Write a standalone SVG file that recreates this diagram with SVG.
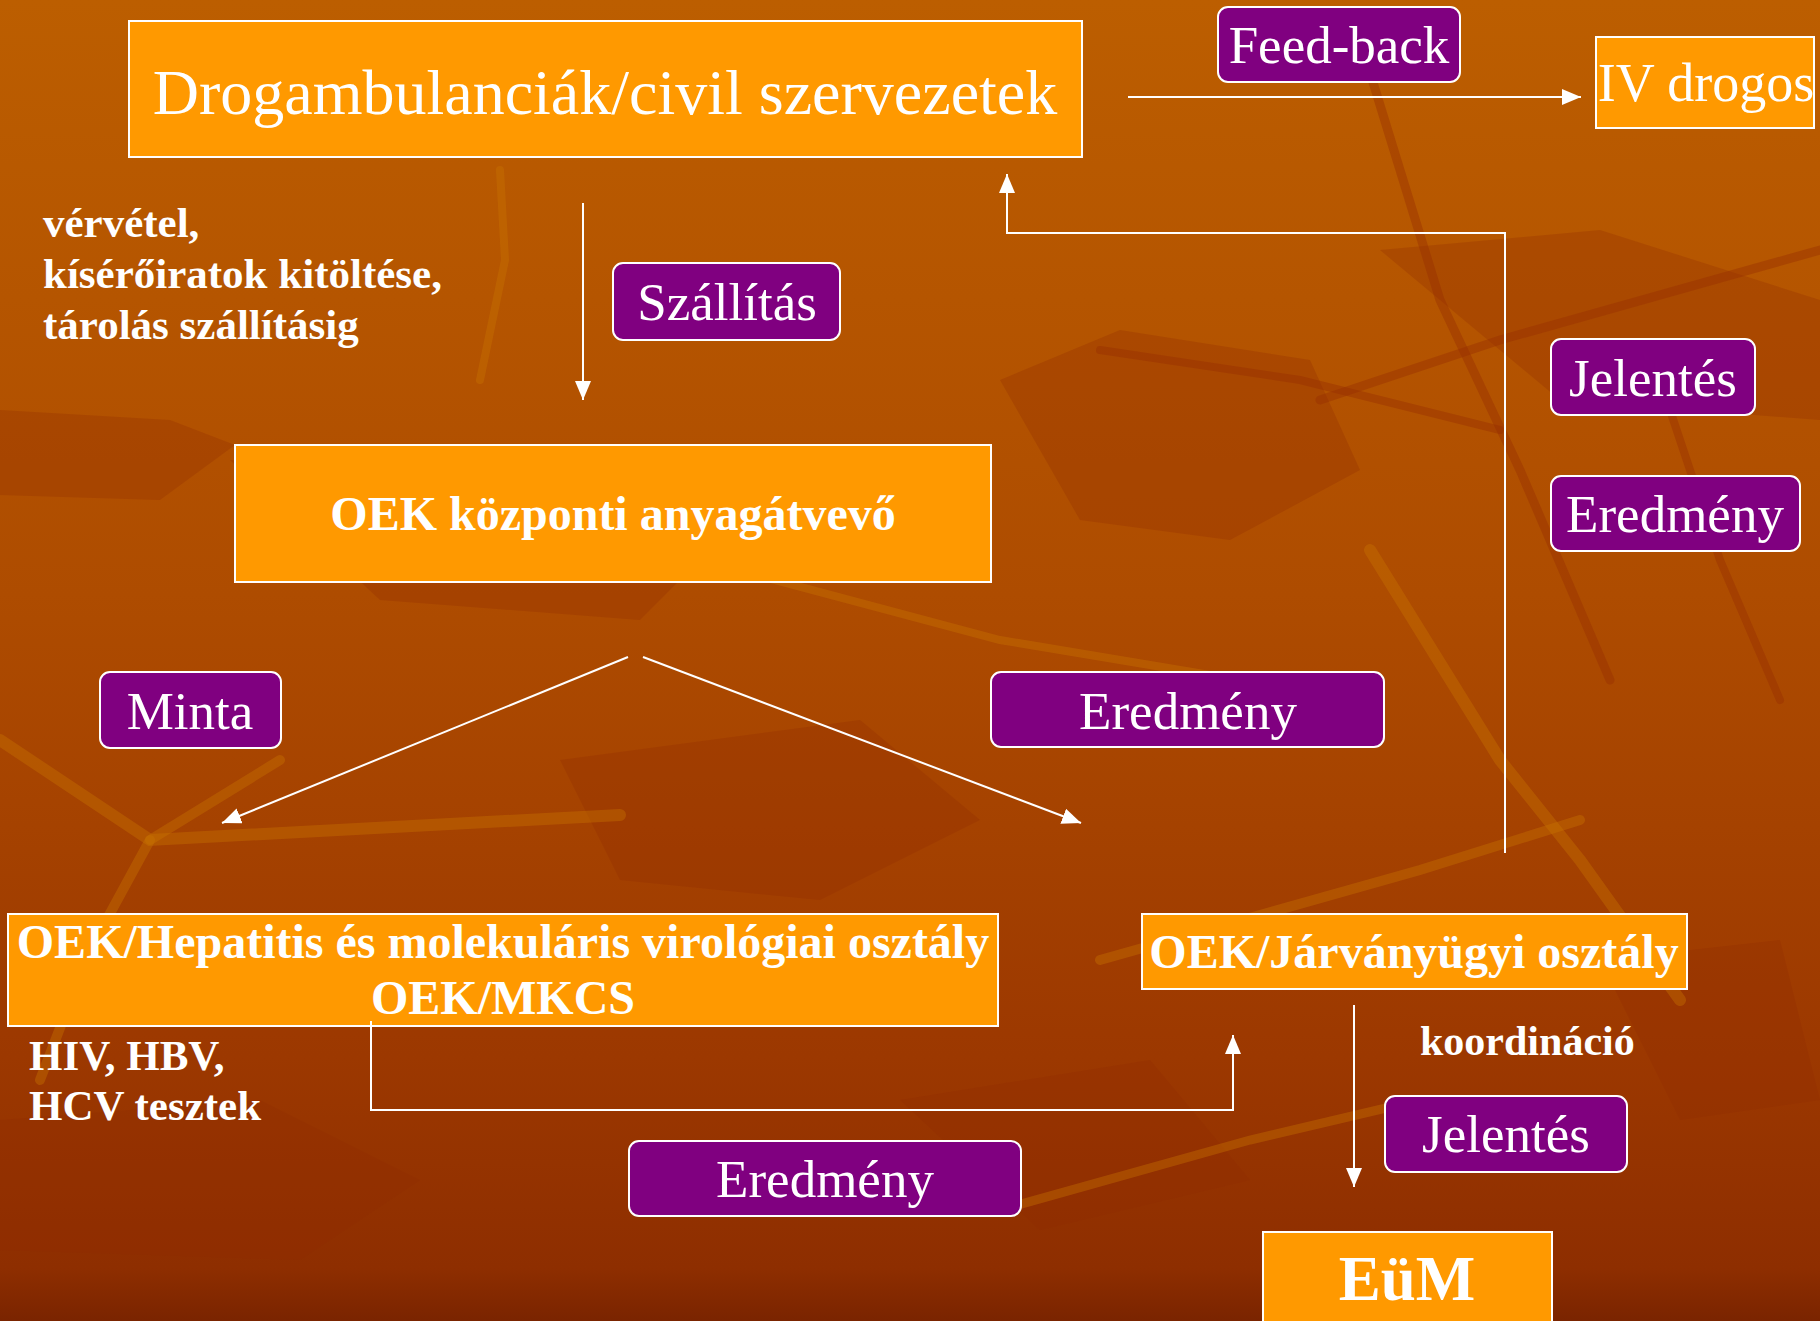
<svg xmlns="http://www.w3.org/2000/svg" width="1820" height="1321" viewBox="0 0 1820 1321">
  <defs>
    <linearGradient id="bg" x1="0" y1="0" x2="0" y2="1">
      <stop offset="0" stop-color="#BC5E00"/>
      <stop offset="0.45" stop-color="#AE4C00"/>
      <stop offset="0.8" stop-color="#9C3800"/>
      <stop offset="0.96" stop-color="#8E2E00"/>
      <stop offset="1" stop-color="#7A2400"/>
    </linearGradient>
    <marker id="arrow" markerUnits="userSpaceOnUse" markerWidth="20" markerHeight="18" refX="19" refY="8" orient="auto">
      <path d="M0,0 L19,8 L0,16 z" fill="#FFFFFF"/>
    </marker>
    <style>
      .box { fill: #FF9900; stroke: #FFFFFF; stroke-width: 2; }
      .tag { fill: #800080; stroke: #FFFFFF; stroke-width: 2; }
      .t { font-family: "Liberation Serif", "Times New Roman", serif; fill: #FFFFFF; }
      .tb { font-family: "Liberation Serif", "Times New Roman", serif; fill: #FFFFFF; font-weight: bold; }
      .conn { fill: none; stroke: #FFFFFF; stroke-width: 2; }
      .dk { fill: #8E2A00; opacity: 0.28; }
      .lt { fill: none; stroke: #C87400; stroke-linecap: round; opacity: 0.4; }
      .ds { fill: none; stroke: #962E00; stroke-linecap: round; opacity: 0.4; }
    </style>
  </defs>

  <g id="background">
    <rect x="0" y="0" width="1820" height="1321" fill="url(#bg)"/>
    <polygon class="dk" points="0,410 170,420 235,445 160,500 0,495"/>
    <polygon class="dk" points="230,460 560,470 700,560 640,620 380,600"/>
    <polygon class="dk" points="1000,380 1120,330 1310,360 1360,470 1230,540 1080,520"/>
    <polygon class="dk" points="1380,250 1600,230 1820,300 1820,420 1560,400"/>
    <polygon class="dk" points="560,760 860,720 980,820 820,900 620,880"/>
    <polygon class="dk" points="0,1120 260,1100 420,1180 300,1260 0,1250"/>
    <polygon class="dk" points="900,1100 1150,1060 1250,1180 1040,1230"/>
    <polygon class="dk" points="1600,960 1780,940 1820,1100 1680,1120"/>
    <polyline class="lt" stroke-width="12" points="0,740 150,840 620,815"/>
    <polyline class="lt" stroke-width="10" points="150,840 90,950 40,1080"/>
    <polyline class="lt" stroke-width="10" points="280,760 150,840"/>
    <polyline class="lt" stroke-width="12" points="1370,550 1500,760 1580,860 1680,1000"/>
    <polyline class="lt" stroke-width="10" points="1100,960 1420,870 1580,820"/>
    <polyline class="lt" stroke-width="8" points="500,170 505,260 480,380"/>
    <polyline class="lt" stroke-width="8" points="700,560 1000,640 1300,690"/>
    <polyline class="lt" stroke-width="9" points="1000,1210 1250,1140 1420,1100"/>
    <polyline class="ds" stroke-width="9" points="1320,400 1500,340 1820,250"/>
    <polyline class="ds" stroke-width="9" points="1360,40 1440,300 1520,470 1610,680"/>
    <polyline class="ds" stroke-width="8" points="1100,350 1300,380 1500,430"/>
    <polyline class="ds" stroke-width="8" points="1660,380 1720,560 1780,700"/>
  </g>

  <g id="node-drogambulanciak">
    <rect class="box" x="129" y="21" width="953" height="136"/>
    <text class="t" x="605" y="114" font-size="64" text-anchor="middle">Drogambulanciák/civil szervezetek</text>
  </g>

  <g id="label-feedback">
    <rect class="tag" x="1218" y="7" width="242" height="75" rx="10"/>
    <text class="t" x="1339" y="63" font-size="53" text-anchor="middle">Feed-back</text>
  </g>

  <g id="node-iv-drogos">
    <rect class="box" x="1596" y="37" width="218" height="91"/>
    <text class="t" x="1706" y="101" font-size="54" text-anchor="middle">IV drogos</text>
  </g>

  <g id="label-vervetel">
    <text class="tb" x="43" y="237" font-size="43">vérvétel,</text>
    <text class="tb" x="43" y="288" font-size="43">kísérőiratok kitöltése,</text>
    <text class="tb" x="43" y="339" font-size="43">tárolás szállításig</text>
  </g>

  <g id="label-szallitas">
    <rect class="tag" x="613" y="263" width="227" height="77" rx="10"/>
    <text class="t" x="727" y="320" font-size="53" text-anchor="middle">Szállítás</text>
  </g>

  <g id="label-jelentes-top">
    <rect class="tag" x="1551" y="339" width="204" height="76" rx="10"/>
    <text class="t" x="1653" y="396" font-size="53" text-anchor="middle">Jelentés</text>
  </g>

  <g id="label-eredmeny-right">
    <rect class="tag" x="1551" y="476" width="249" height="75" rx="10"/>
    <text class="t" x="1675" y="532" font-size="53" text-anchor="middle">Eredmény</text>
  </g>

  <g id="node-oek-kozponti">
    <rect class="box" x="235" y="445" width="756" height="137"/>
    <text class="tb" x="613" y="530" font-size="48" text-anchor="middle">OEK központi anyagátvevő</text>
  </g>

  <g id="label-minta">
    <rect class="tag" x="100" y="672" width="181" height="76" rx="10"/>
    <text class="t" x="190" y="729" font-size="53" text-anchor="middle">Minta</text>
  </g>

  <g id="label-eredmeny-mid">
    <rect class="tag" x="991" y="672" width="393" height="75" rx="10"/>
    <text class="t" x="1188" y="729" font-size="53" text-anchor="middle">Eredmény</text>
  </g>

  <g id="node-hepatitis">
    <rect class="box" x="8" y="914" width="990" height="112"/>
    <text class="tb" x="503" y="958" font-size="48" text-anchor="middle">OEK/Hepatitis és molekuláris virológiai osztály</text>
    <text class="tb" x="503" y="1014" font-size="48" text-anchor="middle">OEK/MKCS</text>
  </g>

  <g id="node-jarvanyugyi">
    <rect class="box" x="1142" y="914" width="545" height="75"/>
    <text class="tb" x="1414" y="968" font-size="48" text-anchor="middle">OEK/Járványügyi osztály</text>
  </g>

  <g id="label-tesztek">
    <text class="tb" x="29" y="1070" font-size="43">HIV, HBV,</text>
    <text class="tb" x="29" y="1120" font-size="43">HCV tesztek</text>
  </g>

  <g id="label-koordinacio">
    <text class="tb" x="1420" y="1055" font-size="42">koordináció</text>
  </g>

  <g id="label-jelentes-bottom">
    <rect class="tag" x="1385" y="1096" width="242" height="76" rx="10"/>
    <text class="t" x="1506" y="1152" font-size="53" text-anchor="middle">Jelentés</text>
  </g>

  <g id="label-eredmeny-bottom">
    <rect class="tag" x="629" y="1141" width="392" height="75" rx="10"/>
    <text class="t" x="825" y="1197" font-size="53" text-anchor="middle">Eredmény</text>
  </g>

  <g id="node-eum">
    <rect class="box" x="1263" y="1232" width="289" height="100"/>
    <text class="tb" x="1407" y="1300" font-size="63" text-anchor="middle">EüM</text>
  </g>

  <g id="connectors">
    <line class="conn" x1="583" y1="203" x2="583" y2="400" marker-end="url(#arrow)"/>
    <line class="conn" x1="1128" y1="97" x2="1581" y2="97" marker-end="url(#arrow)"/>
    <polyline class="conn" points="1505,853 1505,233 1007,233 1007,174" marker-end="url(#arrow)"/>
    <line class="conn" x1="628" y1="657" x2="222" y2="823" marker-end="url(#arrow)"/>
    <line class="conn" x1="643" y1="657" x2="1081" y2="823" marker-end="url(#arrow)"/>
    <polyline class="conn" points="371,1021 371,1110 1233,1110 1233,1035" marker-end="url(#arrow)"/>
    <line class="conn" x1="1354" y1="1005" x2="1354" y2="1187" marker-end="url(#arrow)"/>
  </g>
</svg>
